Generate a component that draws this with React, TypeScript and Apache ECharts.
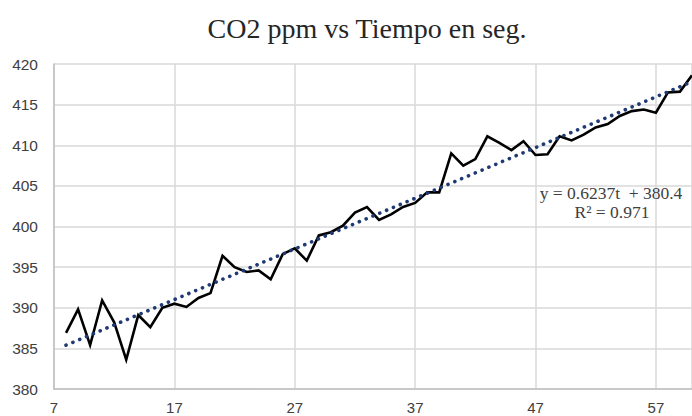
import React, { useEffect, useRef } from "react";
import * as echarts from "echarts";

const times: number[] = [
  8, 9, 10, 11, 12, 13, 14, 15, 16, 17, 18, 19, 20, 21, 22, 23, 24, 25, 26, 27,
  28, 29, 30, 31, 32, 33, 34, 35, 36, 37, 38, 39, 40, 41, 42, 43, 44, 45, 46, 47,
  48, 49, 50, 51, 52, 53, 54, 55, 56, 57, 58, 59, 60,
];
const co2: number[] = [
  386.9, 389.8, 385.4, 390.9, 388.2, 383.6, 389.1, 387.6, 390.0, 390.5, 390.1,
  391.2, 391.8, 396.4, 395.0, 394.4, 394.6, 393.5, 396.6, 397.3, 395.8, 398.9,
  399.3, 400.1, 401.7, 402.4, 400.8, 401.5, 402.4, 402.9, 404.2, 404.2, 409.0,
  407.5, 408.3, 411.1, 410.3, 409.4, 410.5, 408.8, 408.9, 411.1, 410.6, 411.3,
  412.2, 412.6, 413.6, 414.2, 414.4, 414.0, 416.5, 416.6, 418.6,
];
const trendSlope = 0.6237;
const trendIntercept = 380.4;
const rSquared = 0.971;
const trendRange: number[] = [8, 60];

const title = "CO2 ppm vs Tiempo en seg.";

export default function App() {
  const ref = useRef<HTMLDivElement>(null);
  useEffect(() => {
    document.body.style.margin = "0";
    if (!ref.current) return;
    const chart = echarts.init(ref.current, null, { renderer: "svg" });
    const lineData = times.map((t, i) => [t, co2[i]]);
    const trendData = trendRange.map((t) => [t, trendSlope * t + trendIntercept]);
    chart.setOption({
      animation: false,
      backgroundColor: "#ffffff",
      grid: { left: 54, right: 0, top: 64, bottom: 27, containLabel: false },
      xAxis: {
        type: "value",
        min: 7,
        max: 60,
        interval: 10,
        axisLine: { show: true, lineStyle: { color: "#bfbfbf", width: 1.5 } },
        axisTick: { show: false },
        splitLine: { show: true, lineStyle: { color: "#d9d9d9", width: 1.5 } },
        axisLabel: {
          showMaxLabel: false,
          color: "#404040",
          fontFamily: "Liberation Sans",
          fontSize: 15,
          margin: 11,
        },
      },
      yAxis: {
        type: "value",
        min: 380,
        max: 420,
        interval: 5,
        axisLine: { show: true, lineStyle: { color: "#bfbfbf", width: 1.5 } },
        axisTick: { show: false },
        splitLine: { show: true, lineStyle: { color: "#d9d9d9", width: 1.5 } },
        axisLabel: {
          color: "#404040",
          fontFamily: "Liberation Sans",
          fontSize: 15.5,
          margin: 16,
        },
      },
      series: [
        {
          type: "line",
          data: lineData,
          showSymbol: false,
          symbol: "none",
          lineStyle: { color: "#000000", width: 2.6, join: "miter" },
          z: 2,
        },
        {
          type: "line",
          data: trendData,
          showSymbol: false,
          symbol: "none",
          lineStyle: {
            color: "#1f3a73",
            width: 3.6,
            type: [0.1, 7.3],
            cap: "round",
          },
          z: 3,
        },
      ],
      graphic: [
        {
          type: "text",
          x: 367,
          y: 28,
          style: {
            text: title,
            fill: "#262626",
            font: "28px 'Liberation Serif'",
            textAlign: "center",
            textVerticalAlign: "middle",
          },
        },
        {
          type: "text",
          x: 611,
          y: 193,
          z: 10,
          style: {
            text: `y = ${trendSlope}t  + ${trendIntercept}`,
            fill: "#404040",
            font: "17.5px 'Liberation Serif'",
            textAlign: "center",
            textVerticalAlign: "middle",
          },
        },
        {
          type: "text",
          x: 612,
          y: 212,
          z: 10,
          style: {
            text: `R² = ${rSquared}`,
            fill: "#404040",
            font: "17.5px 'Liberation Serif'",
            textAlign: "center",
            textVerticalAlign: "middle",
          },
        },
      ],
    });
    return () => chart.dispose();
  }, []);
  return <div ref={ref} style={{ width: 692, height: 416 }} />;
}
